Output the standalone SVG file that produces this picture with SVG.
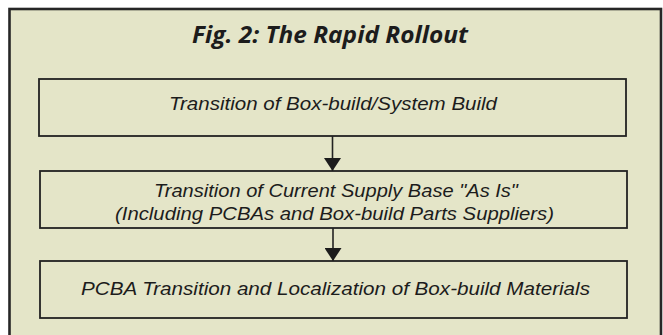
<svg xmlns="http://www.w3.org/2000/svg" width="663" height="335" viewBox="0 0 663 335">
  <style>
    .frame { fill: #e4e5c8; stroke: #262626; stroke-width: 2.6; }
    .box { fill: #e4e5c8; stroke: #222; stroke-width: 1.8; }
    .title { font-family: "Open Sans", "Liberation Sans", sans-serif; font-weight: bold; font-style: italic; font-size: 23px; fill: #1c1c1c; text-anchor: middle; }
    .label { font-family: "Liberation Sans", Arial, sans-serif; font-style: italic; font-size: 19px; fill: #1c1c1c; text-anchor: middle; }
    .conn { stroke: #222; stroke-width: 1.6; fill: none; marker-end: url(#head); }
  </style>
  <defs>
    <marker id="head" viewBox="0 0 13 17" refX="13" refY="8.5" markerWidth="13" markerHeight="17" markerUnits="userSpaceOnUse" orient="auto">
      <path d="M0,0 L13,8.5 L0,17 Z" fill="#1c1c1c"/>
    </marker>
  </defs>

  <rect width="663" height="335" fill="#ffffff"/>

  <!-- outer panel, open at the bottom edge -->
  <g id="panel">
    <rect class="frame" x="9.5" y="9" width="651.5" height="340"/>
    <text class="title" x="330" y="43" textLength="276" lengthAdjust="spacingAndGlyphs">Fig. 2: The Rapid Rollout</text>
  </g>

  <g id="step1">
    <rect class="box" x="39" y="79" width="587" height="57"/>
    <text class="label" x="333" y="110" textLength="328" lengthAdjust="spacingAndGlyphs">Transition of Box-build/System Build</text>
  </g>

  <g id="step2">
    <rect class="box" x="40" y="171" width="587" height="57"/>
    <text class="label" x="336" y="197" textLength="364" lengthAdjust="spacingAndGlyphs">Transition of Current Supply Base "As Is"</text>
    <text class="label" x="334.5" y="220" textLength="439" lengthAdjust="spacingAndGlyphs">(Including PCBAs and Box-build Parts Suppliers)</text>
  </g>

  <g id="step3">
    <rect class="box" x="40" y="261" width="587" height="57"/>
    <text class="label" x="335.5" y="295" textLength="509" lengthAdjust="spacingAndGlyphs">PCBA Transition and Localization of Box-build Materials</text>
  </g>

  <g id="connectors">
    <line class="conn" x1="332.5" y1="136" x2="332.5" y2="171"/>
    <line class="conn" x1="333" y1="228" x2="333" y2="261"/>
  </g>
</svg>
